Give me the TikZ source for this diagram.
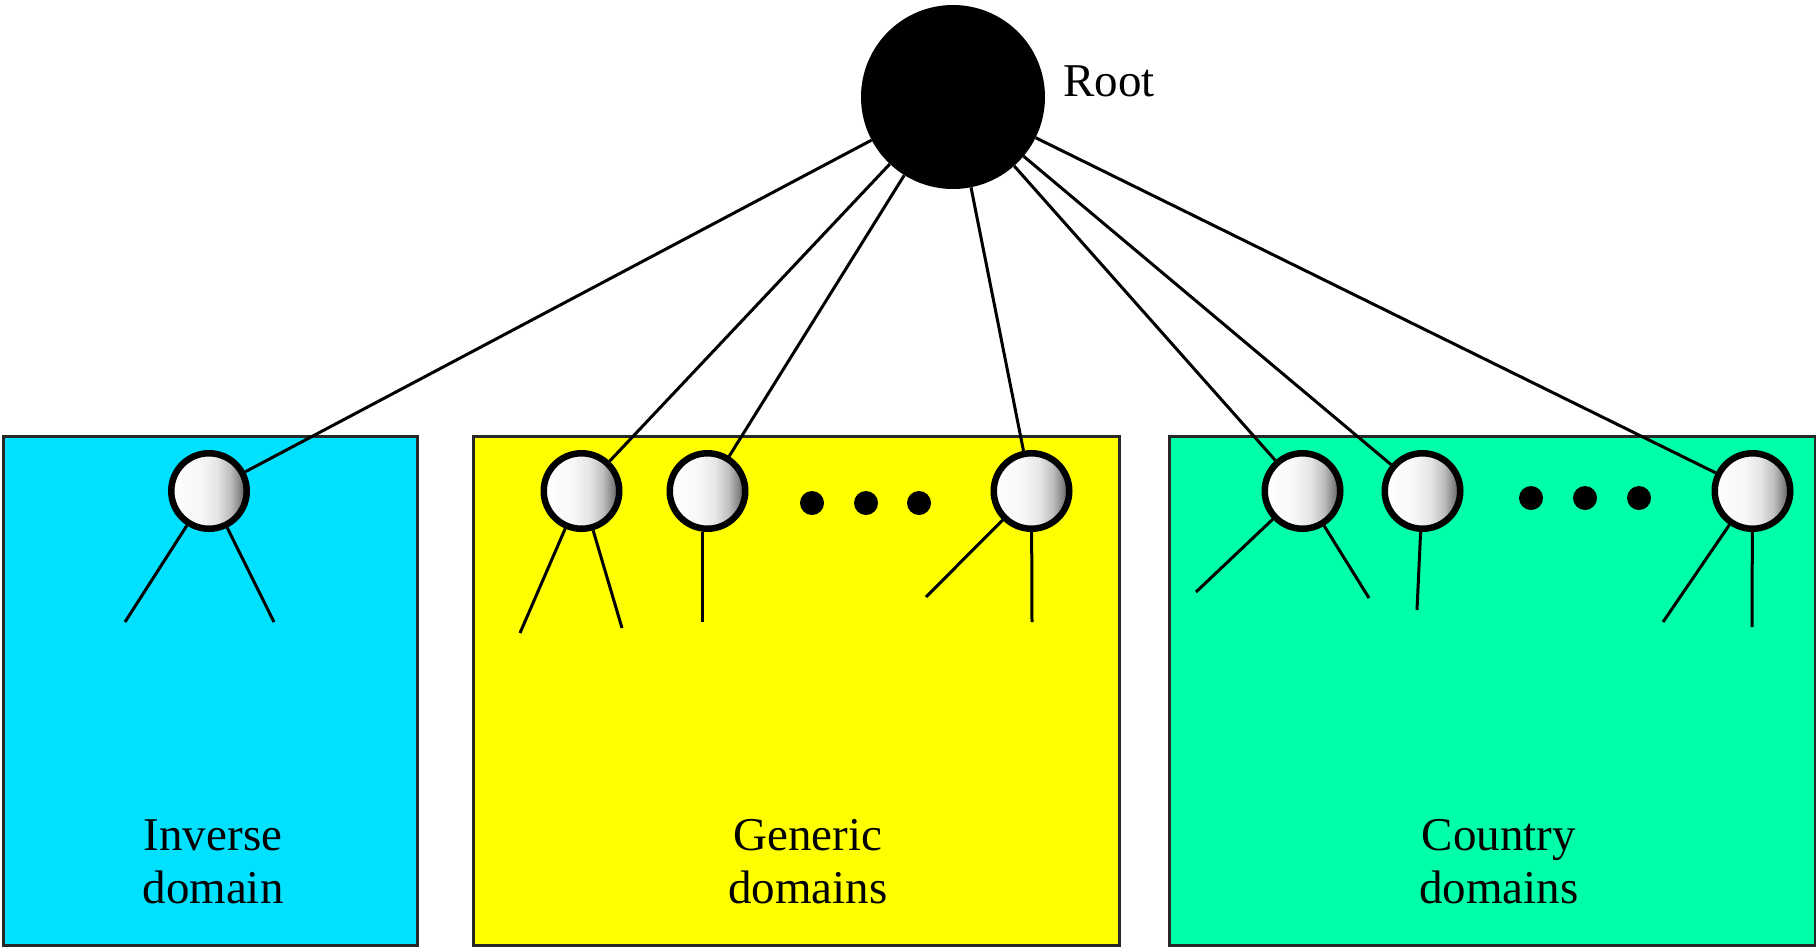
\documentclass[tikz,border=0pt]{standalone}
\usepackage{fontspec}
\setmainfont{Liberation Serif}
\definecolor{invc}{RGB}{0,224,255}
\definecolor{genc}{RGB}{255,255,0}
\definecolor{couc}{RGB}{0,255,170}
\definecolor{boxline}{RGB}{40,40,40}
\pgfdeclarehorizontalshading{ballshade}{100bp}{color(0bp)=(white); color(25bp)=(white); color(44bp)=(white!97!black); color(55bp)=(black!10); color(64bp)=(black!25); color(71bp)=(black!50); color(75bp)=(black!72); color(100bp)=(black!72)}
\tikzset{
  domainbox/.style={draw=boxline, line width=3pt, inner sep=0pt, anchor=north west},
  leaf/.style={circle, draw=black, line width=6.5pt, minimum size=75.5pt, inner sep=0pt, shading=ballshade},
  rootnode/.style={circle, fill=black, minimum size=184pt, inner sep=0pt},
  dotnode/.style={circle, fill=black, minimum size=24pt, inner sep=0pt},
  conn/.style={line width=3pt},
  lbl/.style={inner sep=0pt, anchor=base, font=\fontsize{47}{53}\selectfont},
}
\begin{document}
\begin{tikzpicture}[x=1pt, y=-1pt]
\useasboundingbox (0,0) rectangle (1816,946);
% boxes
\node[domainbox, fill=invc, minimum width=414pt, minimum height=509pt] (invbox) at (2,435) {};
\node[domainbox, fill=genc, minimum width=646pt, minimum height=509pt] (genbox) at (472,435) {};
\node[domainbox, fill=couc, minimum width=646pt, minimum height=509pt] (coubox) at (1168,435) {};
% labels
\node[lbl] (invlbl) at (213,850) {\begin{tabular}[t]{@{}c@{}}Inverse\\domain\end{tabular}};
\node[lbl] (genlbl) at (808,850) {\begin{tabular}[t]{@{}c@{}}Generic\\domains\end{tabular}};
\node[lbl] (coulbl) at (1499,850) {\begin{tabular}[t]{@{}c@{}}Country\\domains\end{tabular}};
% root
\node[rootnode] (root) at (953,97) {};
\node[lbl, anchor=base west] (roottxt) at (1063,96) {Root};
% leaves
\node[leaf] (inv) at (209,491) {};
\node[leaf] (g1) at (581.5,491) {};
\node[leaf] (g2) at (707.5,491) {};
\node[leaf] (g3) at (1031.5,491) {};
\node[leaf] (c1) at (1302.5,491) {};
\node[leaf] (c2) at (1422.5,491) {};
\node[leaf] (c3) at (1752.5,491) {};
% dots
\node[dotnode] (gd1) at (812,503) {};
\node[dotnode] (gd2) at (866,503) {};
\node[dotnode] (gd3) at (919,503) {};
\node[dotnode] (cd1) at (1531,498) {};
\node[dotnode] (cd2) at (1585,498) {};
\node[dotnode] (cd3) at (1639,498) {};
% child ends
\coordinate (invA) at (125,622);
\coordinate (invB) at (274,622);
\coordinate (g1A) at (520,633);
\coordinate (g1B) at (622,628);
\coordinate (g2A) at (702,622);
\coordinate (g3A) at (926,597);
\coordinate (g3B) at (1032,622);
\coordinate (c1A) at (1196,592);
\coordinate (c1B) at (1369,598);
\coordinate (c2A) at (1417,610);
\coordinate (c3A) at (1663,622);
\coordinate (c3B) at (1752,627);
% connectors from root
\foreach \n in {inv,g1,g2,g3,c1,c2,c3} \draw[conn] (root) -- (\n);
% child lines
\draw[conn] (inv) -- (invA);
\draw[conn] (inv) -- (invB);
\draw[conn] (g1) -- (g1A);
\draw[conn] (g1) -- (g1B);
\draw[conn] (g2.south -| g2A) -- (g2A);
\draw[conn] (g3) -- (g3A);
\draw[conn] (g3) -- (g3B);
\draw[conn] (c1) -- (c1A);
\draw[conn] (c1) -- (c1B);
\draw[conn] (c2) -- (c2A);
\draw[conn] (c3) -- (c3A);
\draw[conn] (c3) -- (c3B);
\end{tikzpicture}
\end{document}
